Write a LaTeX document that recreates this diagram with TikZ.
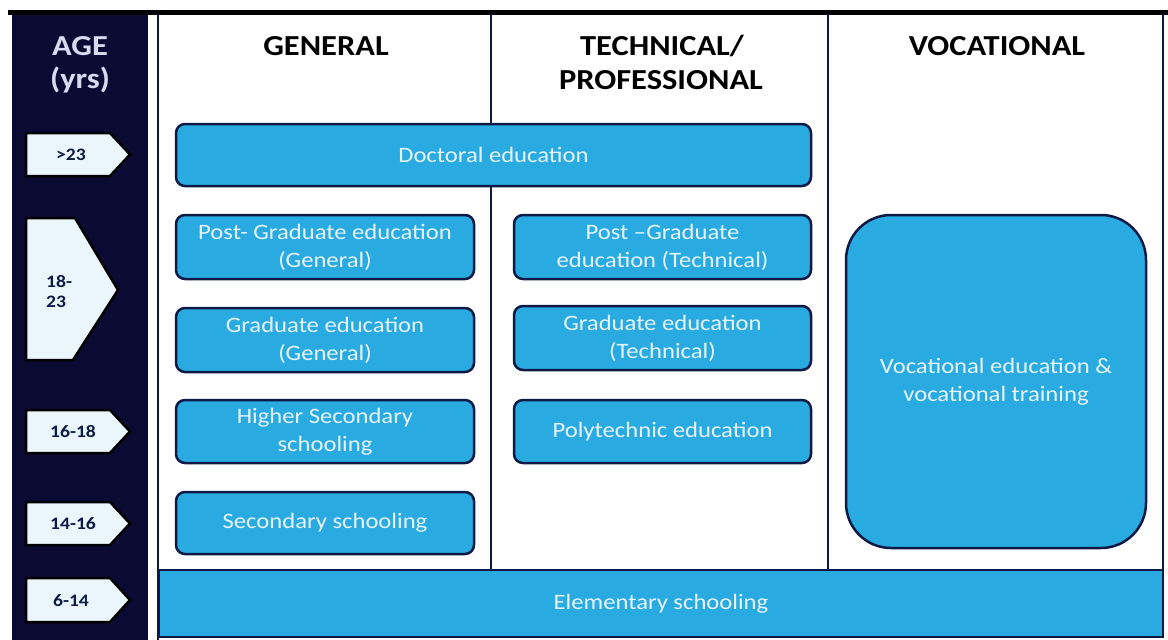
\documentclass[tikz,border=0pt]{standalone}
\usepackage{fontspec}
\setmainfont{Carlito}[FakeStretch=1.12]
\definecolor{navy}{HTML}{0A0A33}
\definecolor{edge}{HTML}{0D1A45}
\definecolor{sky}{HTML}{29ABE2}
\definecolor{pale}{HTML}{EAF6FC}
\definecolor{boxtext}{HTML}{E6F3FA}
\definecolor{agetext}{HTML}{D9D9F2}
\begin{document}
\begin{tikzpicture}[x=1pt,y=-1pt,
  edubox/.style={draw=edge, line width=2.5pt, fill=sky, rounded corners=9pt, text=boxtext,
    font=\fontsize{22}{28}\selectfont, align=center, inner sep=0pt},
  header/.style={font=\bfseries\fontsize{29}{36}\selectfont, align=center, text=black},
  agehead/.style={font=\bfseries\fontsize{29}{36}\selectfont, align=center, text=agetext},
  agebox/.style={draw=black, line width=2.5pt, fill=pale, line join=miter},
  agelabel/.style={font=\bfseries\fontsize{17.5}{20}\selectfont, text=edge, inner sep=0pt},
  divider/.style={draw=edge, line width=2.5pt}]
\useasboundingbox (0,0) rectangle (1168,640);
\fill[white] (0,0) rectangle (1168,640);
% left age column
\fill[navy] (12,12) rectangle (148,640);
% top line
\draw[black, line width=5pt] (8,12) -- (1168,12);
% panel borders and dividers
\draw[divider] (158,14) -- (158,640);
\draw[divider] (1163,14) -- (1163,570);
\draw[divider] (491,14) -- (491,570);
\draw[divider] (828,14) -- (828,570);
% headers
\node[agehead] (hage) at (80,46) {AGE};
\node[agehead] (hyrs) at (80,80) {(yrs)};
\node[header] (hgen) at (326,46) {GENERAL};
\node[header] (htech1) at (662,46) {TECHNICAL/};
\node[header] (htech2) at (661,80) {PROFESSIONAL};
\node[header] (hvoc) at (997,46) {VOCATIONAL};
% education boxes
\node[edubox, minimum width=635pt, minimum height=62pt] (doc) at (493.5,155) {Doctoral education};
\node[edubox, minimum width=298pt, minimum height=64pt] (pgg) at (325,247) {Post- Graduate education\\(General)};
\node[edubox, minimum width=297pt, minimum height=64pt] (pgt) at (662.5,247) {Post --Graduate\\education (Technical)};
\node[edubox, minimum width=298pt, minimum height=64pt] (gg) at (325,340) {Graduate education\\(General)};
\node[edubox, minimum width=297pt, minimum height=64pt] (gt) at (662.5,338) {Graduate education\\(Technical)};
\node[edubox, minimum width=298pt, minimum height=63pt] (hs) at (325,431.5) {Higher Secondary\\schooling};
\node[edubox, minimum width=297pt, minimum height=63pt] (poly) at (662.5,431.5) {Polytechnic education};
\node[edubox, minimum width=298pt, minimum height=62pt] (sec) at (325,523) {Secondary schooling};
\node[edubox, minimum width=300pt, minimum height=333pt, rounded corners=45pt] (voc) at (996,381.5) {Vocational education \&\\vocational training};
\node[edubox, minimum width=1004pt, minimum height=67pt, rounded corners=0pt] (elem) at (661,603.5) {Elementary schooling};
% age arrows
\draw[agebox] (26,133) -- (110,133) -- (130,154.5) -- (110,176) -- (26,176) -- cycle;
\node[agelabel] (a1) at (71,155) {>23};
\draw[agebox] (26,218) -- (75,218) -- (118,290) -- (73,360) -- (26,360) -- cycle;
\node[agelabel, align=left, anchor=west] (a2) at (46,292) {18-\\23};
\draw[agebox] (26,410) -- (110,410) -- (130,431.5) -- (110,453) -- (26,453) -- cycle;
\node[agelabel] (a3) at (73,432) {16-18};
\draw[agebox] (26,502) -- (110,502) -- (130,523.5) -- (110,545) -- (26,545) -- cycle;
\node[agelabel] (a4) at (73,524) {14-16};
\draw[agebox] (26,578) -- (110,578) -- (130,600) -- (110,622) -- (26,622) -- cycle;
\node[agelabel] (a5) at (71,601) {6-14};
\end{tikzpicture}
\end{document}
